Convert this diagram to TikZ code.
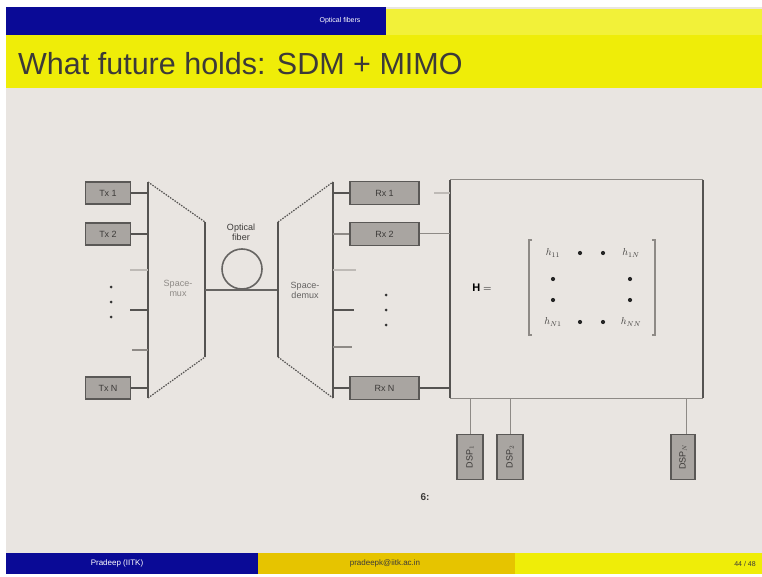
\documentclass[tikz,border=0pt]{standalone}
\usepackage{fontspec}
\setmainfont{Liberation Sans}
\usetikzlibrary{calc}

\definecolor{slidebg}{HTML}{E9E5E1}
\definecolor{barblue}{HTML}{0A0A96}
\definecolor{baryellow}{HTML}{EFED08}
\definecolor{barorange}{HTML}{E6C400}
\definecolor{titlegray}{HTML}{3C3A38}
\definecolor{boxfill}{HTML}{A9A5A1}
\definecolor{boxedge}{HTML}{5A5856}
\definecolor{linedark}{HTML}{555351}
\definecolor{linemid}{HTML}{8E8A86}
\definecolor{linelight}{HTML}{BEBAB6}

\tikzset{
  unitbox/.style={draw=boxedge, fill=boxfill, line width=1.2pt, inner sep=0pt,
    font=\fontsize{9}{10}\selectfont, text=titlegray},
  wire/.style={draw=linedark, line width=1.3pt},
  stubdark/.style={draw=linedark, line width=1.4pt},
  stubmid/.style={draw=linemid, line width=1.2pt},
  stublight/.style={draw=linelight, line width=1.2pt},
  slant/.style={draw=linedark, line width=1.2pt, dash pattern=on 1.5pt off 1.2pt},
  edge/.style={draw=linedark, line width=1.3pt},
  bigdot/.style={circle, fill=black!85, inner sep=0pt, minimum size=4.2pt},
  smalldot/.style={circle, fill=black!80, inner sep=0pt, minimum size=3pt},
  lbl/.style={font=\fontsize{9}{10}\selectfont, align=center, inner sep=0pt},
}

\begin{document}
\begin{tikzpicture}[x=1pt, y=-1pt]
\useasboundingbox (0,0) rectangle (762,577);
\fill[white] (0,0) rectangle (762,577);
% slide background
\fill[slidebg] (6,7) rectangle (762,574);

% header bars
\fill[barblue] (6,7) rectangle (386,35);
\fill[baryellow!80!white] (386,9) rectangle (762,35);
\fill[baryellow] (6,35) rectangle (762,88);
\node[text=white, font=\fontsize{7}{8}\selectfont] (section) at (340,21) {Optical fibers};
\node[anchor=base west, text=titlegray, inner sep=0pt] (title) at (18,75)
  {\fontsize{30.5}{34}\selectfont What future holds: SDM + MIMO};

% footer bars
\fill[barblue] (6,553) rectangle (258,574);
\fill[barorange] (258,553) rectangle (515,574);
\fill[baryellow] (515,553) rectangle (762,574);
\node[text=white, font=\fontsize{8}{9}\selectfont] (author) at (117,563.5) {Pradeep (IITK)};
\node[text=titlegray, font=\fontsize{8}{9}\selectfont] (mail) at (385,563.5) {pradeepk@iitk.ac.in};
\node[text=titlegray, font=\fontsize{7}{8}\selectfont] (page) at (745,563.5) {44 / 48};

% transmitters
\node[unitbox, minimum width=45pt, minimum height=22pt] (tx1) at (108,193) {Tx 1};
\node[unitbox, minimum width=45pt, minimum height=22pt] (tx2) at (108,234) {Tx 2};
\node[unitbox, minimum width=45pt, minimum height=22pt] (txN) at (108,388) {Tx N};

% space multiplexer
\coordinate (m1) at (148,182);
\coordinate (m2) at (205,222);
\coordinate (m3) at (205,357);
\coordinate (m4) at (148,398);
\draw[edge] (m1) -- (m4);
\draw[edge] (m2) -- (m3);
\draw[slant] (m1) -- (m2);
\draw[slant] (m4) -- (m3);
\coordinate (mp1) at (148,193);
\coordinate (mp2) at (148,234);
\coordinate (mpN) at (148,388);
\draw[wire] (tx1) -- (mp1);
\draw[wire] (tx2) -- (mp2);
\draw[wire] (txN) -- (mpN);
\coordinate (ms1a) at (130,270); \coordinate (ms1b) at (148,270);
\coordinate (ms2a) at (130,310); \coordinate (ms2b) at (148,310);
\coordinate (ms3a) at (132,350); \coordinate (ms3b) at (148,350);
\draw[stublight] (ms1a) -- (ms1b);
\draw[stubdark] (ms2a) -- (ms2b);
\draw[stubmid] (ms3a) -- (ms3b);
\node[smalldot] (tdot1) at (111,287) {};
\node[smalldot] (tdot2) at (111,302) {};
\node[smalldot] (tdot3) at (111,317) {};
\node[lbl, text=linemid] (muxlbl) at (178,288) {Space-\\mux};

% fiber with loop
\coordinate (f1) at (205,290);
\coordinate (f2) at (278,290);
\draw[draw=linedark!90, line width=1.6pt] (f1) -- (f2);
\node[circle, draw=linedark!90, line width=1.6pt, minimum size=40pt, inner sep=0pt] (loop) at (242,269) {};
\node[lbl, text=titlegray] (fiberlbl) at (241,232) {Optical\\fiber};

% space demultiplexer
\coordinate (d1) at (278,222);
\coordinate (d2) at (333,182);
\coordinate (d3) at (333,398);
\coordinate (d4) at (278,357);
\draw[edge] (d1) -- (d4);
\draw[edge] (d2) -- (d3);
\draw[slant] (d1) -- (d2);
\draw[slant] (d4) -- (d3);

% receivers
\node[unitbox, minimum width=69pt, minimum height=23pt] (rx1) at (384.5,193) {Rx 1};
\node[unitbox, minimum width=69pt, minimum height=23pt] (rx2) at (384.5,234) {Rx 2};
\node[unitbox, minimum width=69pt, minimum height=23pt] (rxN) at (384.5,388) {Rx N};
\coordinate (dp1) at (333,193);
\coordinate (dp2) at (333,234);
\coordinate (dpN) at (333,388);
\draw[stubdark] (dp1) -- (rx1);
\draw[stubmid] (dp2) -- (rx2);
\draw[stubdark] (dpN) -- (rxN);
\coordinate (ds1a) at (333,270); \coordinate (ds1b) at (356,270);
\coordinate (ds2a) at (333,310); \coordinate (ds2b) at (354,310);
\coordinate (ds3a) at (333,347); \coordinate (ds3b) at (352,347);
\draw[stublight] (ds1a) -- (ds1b);
\draw[stubdark] (ds2a) -- (ds2b);
\draw[stubmid] (ds3a) -- (ds3b);
\node[smalldot] (rdot1) at (386,295) {};
\node[smalldot] (rdot2) at (386,310) {};
\node[smalldot] (rdot3) at (386,325) {};
\node[lbl, text=titlegray!80] (demuxlbl) at (305,290) {Space-\\demux};

% channel matrix block
\coordinate (b1) at (450,180);
\coordinate (b2) at (703,180);
\coordinate (b3) at (703,398);
\coordinate (b4) at (450,398);
\draw[draw=linemid, line width=1pt] (b1) -- (b2);
\draw[draw=linemid, line width=1pt] (b4) -- (b3);
\draw[edge] (b1) -- (b4);
\draw[edge] (b2) -- (b3);
\coordinate (bi1) at (450,193);
\coordinate (bi2) at (450,234);
\coordinate (biN) at (450,388);
\coordinate (bs1) at (434,193);
\draw[stublight] (bs1) -- (bi1);
\draw[stubmid, line width=1pt] (rx2) -- (bi2);
\draw[stubdark] (rxN) -- (biN);

\node[font=\fontsize{11}{12}\selectfont, inner sep=0pt] (Heq) at (482,288) {$\mathbf{H}=$};
\coordinate (lb1) at (529,240); \coordinate (lb2) at (529,335);
\coordinate (rb1) at (655,240); \coordinate (rb2) at (655,335);
\draw[draw=linemid, line width=1.1pt] ($(lb1)+(3,0)$) -- (lb1) -- (lb2) -- ($(lb2)+(3,0)$);
\draw[draw=linemid, line width=1.1pt] ($(rb1)+(-3,0)$) -- (rb1) -- (rb2) -- ($(rb2)+(-3,0)$);
\node[font=\fontsize{10}{11}\selectfont, text=titlegray] (h11) at (553,253) {$h_{11}$};
\node[font=\fontsize{10}{11}\selectfont, text=titlegray] (h1N) at (631,253) {$h_{1N}$};
\node[font=\fontsize{10}{11}\selectfont, text=titlegray] (hN1) at (553,322) {$h_{N1}$};
\node[font=\fontsize{10}{11}\selectfont, text=titlegray] (hNN) at (631,322) {$h_{NN}$};
\node[bigdot] (md1) at (580,253) {};
\node[bigdot] (md2) at (603,253) {};
\node[bigdot] (md3) at (553,279) {};
\node[bigdot] (md4) at (553,300) {};
\node[bigdot] (md5) at (630,279) {};
\node[bigdot] (md6) at (630,300) {};
\node[bigdot] (md7) at (580,322) {};
\node[bigdot] (md8) at (603,322) {};

% processing units below the block
\node[unitbox, minimum width=26pt, minimum height=45pt] (dsp1) at (470,457) {\rotatebox{90}{DSP$_1$}};
\node[unitbox, minimum width=26pt, minimum height=45pt] (dsp2) at (510,457) {\rotatebox{90}{DSP$_2$}};
\node[unitbox, minimum width=24pt, minimum height=45pt] (dspN) at (683,457) {\rotatebox{90}{DSP$_N$}};
\coordinate (bo1) at (470,398);
\coordinate (bo2) at (510,398);
\coordinate (boN) at (686,398);
\draw[stubmid, line width=1pt] (bo1) -- (dsp1.north);
\draw[stubmid, line width=1pt] (bo2) -- (dsp2.north);
\draw[stubmid, line width=1pt] (boN) -- (boN |- dspN.north);
\node[font=\bfseries\fontsize{10}{11}\selectfont, text=titlegray] (note) at (425,497) {6:};
\end{tikzpicture}
\end{document}
